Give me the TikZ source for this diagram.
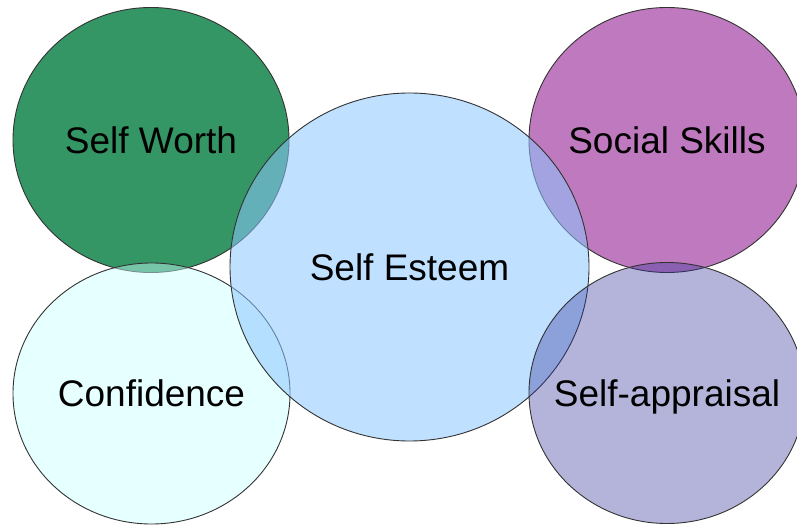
\documentclass[tikz,border=0pt]{standalone}
\usepackage{fontspec}
\setmainfont{Liberation Sans}
\usetikzlibrary{shapes.geometric}

\definecolor{worthgreen}{RGB}{51,150,100}
\definecolor{socialpink}{RGB}{191,121,190}
\definecolor{confcyan}{RGB}{200,255,255}
\definecolor{esteemblue}{RGB}{140,198,255}
\definecolor{appraisalblue}{RGB}{52,52,155}

\begin{document}
\begin{tikzpicture}[x=1pt, y=-1pt,
  bubble/.style={shape=ellipse, draw=black!80, line width=0.9pt, inner sep=0pt},
  every label/.style={font=\fontsize{37}{40}\selectfont, text height=26.5pt, text depth=0pt, inner sep=0pt}]
\clip (0,0) rectangle (797,526);
\node[bubble, fill=worthgreen, minimum width=276pt, minimum height=265pt, label={center:Self Worth}] (worth) at (151,140) {};
\node[bubble, fill=socialpink, minimum width=276pt, minimum height=265pt, label={center:Social Skills}] (social) at (667,140) {};
\node[bubble, fill=confcyan, fill opacity=0.45, minimum width=277pt, minimum height=261pt, label={center:Confidence}] (conf) at (151.5,393.5) {};
\node[bubble, fill=esteemblue, fill opacity=0.55, minimum width=359pt, minimum height=348pt, label={center:Self Esteem}] (esteem) at (409.5,267) {};
\node[bubble, fill=appraisalblue, fill opacity=0.37, minimum width=276pt, minimum height=261pt, label={center:Self-appraisal}] (appraisal) at (667,393) {};
\end{tikzpicture}
\end{document}
